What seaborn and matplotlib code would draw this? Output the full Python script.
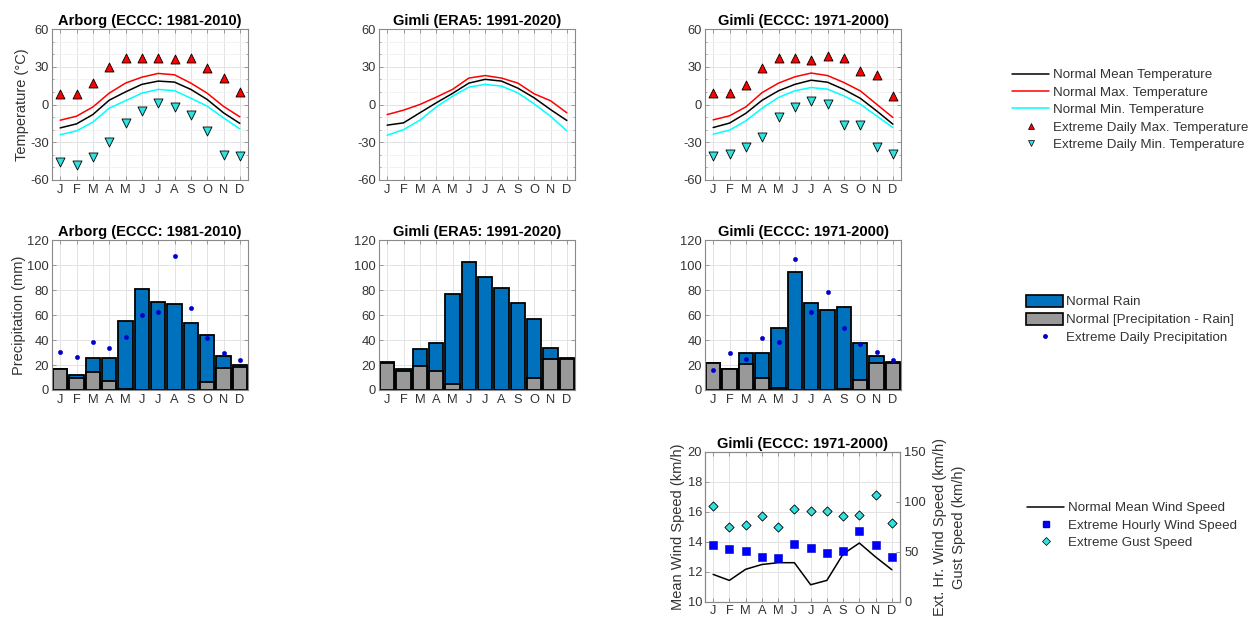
import matplotlib
matplotlib.use("Agg")
import matplotlib.pyplot as plt
from matplotlib.lines import Line2D
from matplotlib.patches import Patch
from matplotlib.ticker import MultipleLocator
import seaborn as sns

# ---------------------------------------------------------------- data
months = ["J", "F", "M", "A", "M", "J", "J", "A", "S", "O", "N", "D"]
month_pos = list(range(1, 13))

# Arborg (ECCC 1981-2010) temperature, degC
arb_t_mean = [-18.6, -15.4, -8.0, 3.4, 10.0, 16.0, 18.6, 17.8, 12.0, 4.0, -6.6, -15.0]
arb_t_max = [-12.5, -9.3, -2.0, 9.0, 17.0, 21.7, 24.7, 23.6, 17.0, 9.0, -1.5, -9.8]
arb_t_min = [-24.0, -21.0, -14.0, -3.0, 3.0, 9.0, 12.0, 11.0, 5.0, -1.3, -10.6, -19.4]
arb_ext_max = [8.0, 8.0, 17.0, 30.0, 37.0, 37.0, 36.6, 36.0, 37.0, 29.0, 21.0, 10.0]
arb_ext_min = [-46.0, -48.0, -42.0, -30.0, -15.0, -5.0, 1.0, -2.0, -8.0, -21.0, -40.0, -41.0]

# Gimli (ERA5 1991-2020) temperature, degC
era_t_mean = [-16.4, -14.6, -6.6, 1.3, 8.8, 17.0, 20.0, 18.6, 13.0, 5.3, -4.0, -12.7]
era_t_max = [-8.0, -4.5, 0.0, 5.8, 12.0, 21.0, 23.0, 21.0, 17.0, 8.5, 3.0, -6.6]
era_t_min = [-24.4, -20.0, -12.5, -2.0, 6.6, 13.8, 16.0, 14.6, 9.3, 0.5, -9.3, -21.0]

# Gimli (ECCC 1971-2000) temperature, degC
gim_t_mean = [-18.3, -14.8, -7.0, 3.4, 10.9, 16.0, 19.3, 17.7, 12.0, 5.0, -5.0, -15.6]
gim_t_max = [-12.2, -9.0, -1.9, 9.5, 17.0, 22.0, 25.0, 23.0, 17.5, 10.9, 0.3, -10.3]
gim_t_min = [-23.6, -20.4, -13.0, -2.9, 5.6, 10.9, 13.5, 12.2, 6.9, 0.3, -9.0, -18.3]
gim_ext_max = [9.0, 9.0, 15.6, 29.4, 36.8, 37.3, 35.5, 38.7, 36.8, 26.8, 23.8, 6.9]
gim_ext_min = [-41.3, -39.5, -34.0, -25.7, -9.8, -1.6, 2.9, 0.3, -16.0, -16.4, -34.0, -39.5]

# Precipitation, mm: rain and (precipitation - rain)
arb_rain = [0.3, 2.0, 10.6, 18.5, 54.5, 81.0, 70.4, 68.8, 53.0, 37.3, 9.2, 1.3]
arb_other = [16.8, 10.0, 14.7, 7.5, 1.0, 0.0, 0.0, 0.0, 0.3, 6.7, 18.0, 18.7]
arb_ext_precip = [30.4, 26.7, 38.7, 34.0, 42.7, 60.0, 62.7, 107.0, 66.0, 42.0, 30.0, 24.0]

era_rain = [0.8, 1.7, 13.1, 22.5, 72.0, 102.8, 90.5, 81.7, 70.0, 47.6, 9.0, 1.0]
era_other = [22.0, 15.3, 19.5, 15.0, 5.0, 0.0, 0.0, 0.0, 0.0, 9.4, 25.0, 25.0]

gim_rain = [0.6, 0.3, 9.2, 20.0, 48.0, 94.7, 70.0, 64.3, 65.9, 30.0, 5.5, 1.1]
gim_other = [21.3, 16.7, 20.8, 10.0, 2.0, 0.0, 0.0, 0.0, 0.8, 8.0, 22.0, 21.3]
gim_ext_precip = [16.0, 30.0, 24.5, 42.0, 38.7, 105.0, 62.7, 78.7, 49.3, 36.5, 30.4, 24.0]

# Gimli (ECCC 1971-2000) wind, km/h
gim_wind_mean = [11.84, 11.44, 12.18, 12.5, 12.62, 12.62, 11.15, 11.44, 13.2, 13.93, 13.0, 12.15]
gim_wind_hourly = [56.7, 52.7, 50.7, 45.0, 44.0, 58.3, 54.3, 49.0, 50.7, 70.7, 56.7, 45.0]
gim_wind_gust = [96.0, 75.0, 76.7, 86.0, 75.0, 93.3, 91.0, 91.0, 86.0, 87.3, 106.7, 79.0]

# ---------------------------------------------------------------- style
sns.set_style("ticks")
plt.rcParams["font.family"] = ["Liberation Sans", "DejaVu Sans"]
plt.rcParams["axes.unicode_minus"] = False

TICK_FS = 9.3
LABEL_FS = 10.5
TITLE_FS = 10.5
LEG_FS = 9.6
AX_COLOR = "#8a8a8a"
TXT_COLOR = "#333333"
GRID_MAJ = "#e3e3e3"
GRID_MIN = "#f0f0f0"
BLUE_BAR = "#0072BD"
GRAY_BAR = "#999999"

fig = plt.figure(figsize=(12.51, 6.17), dpi=100)
W, H = 1251.0, 617.0


def add_axes(left, top, right, bottom):
    return fig.add_axes([left / W, 1 - bottom / H, (right - left) / W, (bottom - top) / H])


def style_axes(ax, title):
    ax.set_xlim(0.5, 12.5)
    ax.set_xticks(month_pos)
    ax.set_xticklabels(months)
    ax.set_axisbelow(True)
    ax.grid(True, which="major", color=GRID_MAJ, lw=0.7)
    for sp in ax.spines.values():
        sp.set_color(AX_COLOR)
        sp.set_linewidth(0.8)
        sp.set_visible(True)
    ax.tick_params(which="both", direction="in", top=True, right=True,
                   colors=AX_COLOR, labelcolor=TXT_COLOR, labelsize=TICK_FS)
    ax.tick_params(which="major", length=3, width=0.6)
    ax.tick_params(which="minor", length=1.5, width=0.5)
    ax.tick_params(axis="x", pad=3)
    ax.tick_params(axis="y", pad=2)
    ax.set_title(title, fontsize=TITLE_FS, fontweight="bold", color="black", pad=3)
    ax.set_xlabel("")
    ax.set_ylabel("")
    if ax.get_legend() is not None:
        ax.get_legend().remove()


def temp_panel(ax, title, t_mean, t_max, t_min, ext_max=None, ext_min=None, ylabel=None):
    sns.lineplot(x=month_pos, y=t_mean, color="black", lw=1.1, ax=ax)
    sns.lineplot(x=month_pos, y=t_max, color="red", lw=1.1, ax=ax)
    sns.lineplot(x=month_pos, y=t_min, color="cyan", lw=1.1, ax=ax)
    if ext_max is not None:
        sns.scatterplot(x=month_pos, y=ext_max, marker="^", color="red", edgecolor="black",
                        linewidth=0.6, s=42, ax=ax, zorder=4)
        sns.scatterplot(x=month_pos, y=ext_min, marker="v", color="#33e0e0", edgecolor="black",
                        linewidth=0.6, s=42, ax=ax, zorder=4)
    ax.set_ylim(-60, 60)
    ax.set_yticks([-60, -30, 0, 30, 60])
    ax.yaxis.set_minor_locator(MultipleLocator(10))
    style_axes(ax, title)
    ax.grid(True, which="minor", axis="y", color=GRID_MIN, lw=0.6)
    if ylabel:
        ax.set_ylabel(ylabel, fontsize=LABEL_FS, color=TXT_COLOR, labelpad=1)


def precip_panel(ax, title, rain, other, ext=None, ylabel=None):
    total = [r + o for r, o in zip(rain, other)]
    sns.barplot(x=month_pos, y=total, native_scale=True, color=BLUE_BAR, saturation=1,
                edgecolor="black", linewidth=1.3, width=0.86, errorbar=None, ax=ax)
    sns.barplot(x=month_pos, y=other, native_scale=True, color=GRAY_BAR, saturation=1,
                edgecolor="black", linewidth=1.3, width=0.86, errorbar=None, ax=ax)
    if ext is not None:
        sns.scatterplot(x=month_pos, y=ext, marker="o", color="#0000CC", edgecolor="#0000CC",
                        linewidth=0.3, s=10, ax=ax, zorder=5)
    ax.set_ylim(0, 120)
    ax.set_yticks(range(0, 121, 20))
    style_axes(ax, title)
    if ylabel:
        ax.set_ylabel(ylabel, fontsize=LABEL_FS, color=TXT_COLOR, labelpad=1)


# ---------------------------------------------------------------- temperature row
ax1 = add_axes(52, 29, 248, 180)
temp_panel(ax1, "Arborg (ECCC: 1981-2010)", arb_t_mean, arb_t_max, arb_t_min,
           arb_ext_max, arb_ext_min, ylabel="Temperature (°C)")
ax2 = add_axes(379, 29, 575, 180)
temp_panel(ax2, "Gimli (ERA5: 1991-2020)", era_t_mean, era_t_max, era_t_min)
ax3 = add_axes(705, 29, 901, 180)
temp_panel(ax3, "Gimli (ECCC: 1971-2000)", gim_t_mean, gim_t_max, gim_t_min,
           gim_ext_max, gim_ext_min)

# ---------------------------------------------------------------- precipitation row
ax4 = add_axes(52, 240, 248, 390)
precip_panel(ax4, "Arborg (ECCC: 1981-2010)", arb_rain, arb_other, arb_ext_precip,
             ylabel="Precipitation (mm)")
ax5 = add_axes(379, 240, 575, 390)
precip_panel(ax5, "Gimli (ERA5: 1991-2020)", era_rain, era_other)
ax6 = add_axes(705, 240, 901, 390)
precip_panel(ax6, "Gimli (ECCC: 1971-2000)", gim_rain, gim_other, gim_ext_precip)

# ---------------------------------------------------------------- wind panel
ax7 = add_axes(705, 452, 900, 602)
sns.lineplot(x=month_pos, y=gim_wind_mean, color="black", lw=1.1, ax=ax7)
ax7.set_ylim(10, 20)
ax7.set_yticks(range(10, 21, 2))
style_axes(ax7, "Gimli (ECCC: 1971-2000)")
ax7.tick_params(right=False)
ax7.tick_params(axis="x", pad=2)
ax7.set_ylabel("Mean Wind Speed (km/h)", fontsize=LABEL_FS, color=TXT_COLOR, labelpad=2)

ax8 = ax7.twinx()
sns.scatterplot(x=month_pos, y=gim_wind_hourly, marker="s", color="#0000FF", edgecolor="#0000CC",
                linewidth=0.4, s=26, ax=ax8, zorder=4)
sns.scatterplot(x=month_pos, y=gim_wind_gust, marker="D", color="#33e0e0", edgecolor="black",
                linewidth=0.6, s=22, ax=ax8, zorder=4)
ax8.set_ylim(0, 150)
ax8.set_yticks([0, 50, 100, 150])
ax8.set_xlim(0.5, 12.5)
for sp in ax8.spines.values():
    sp.set_color(AX_COLOR)
    sp.set_linewidth(0.8)
ax8.tick_params(axis="y", direction="in", colors=AX_COLOR, labelcolor=TXT_COLOR,
                labelsize=TICK_FS, length=3, width=0.6, pad=3)
ax8.set_ylabel("Ext. Hr. Wind Speed (km/h)\nGust Speed (km/h)", fontsize=LABEL_FS,
               color=TXT_COLOR, labelpad=5, linespacing=1.45)

# ---------------------------------------------------------------- legends
temp_handles = [
    Line2D([], [], color="black", lw=1.1),
    Line2D([], [], color="red", lw=1.1),
    Line2D([], [], color="cyan", lw=1.1),
    Line2D([], [], ls="none", marker="^", markerfacecolor="red", markeredgecolor="black",
           markeredgewidth=0.5, markersize=5),
    Line2D([], [], ls="none", marker="v", markerfacecolor="#33e0e0", markeredgecolor="black",
           markeredgewidth=0.5, markersize=5),
]
temp_labels = ["Normal Mean Temperature", "Normal Max. Temperature", "Normal Min. Temperature",
               "Extreme Daily Max. Temperature", "Extreme Daily Min. Temperature"]
fig.legend(temp_handles, temp_labels, loc="upper left", bbox_to_anchor=(1012 / W, 1 - 69 / H),
           frameon=False, fontsize=LEG_FS, borderpad=0, borderaxespad=0, handlelength=2.8,
           handletextpad=0.3, labelspacing=0.38, labelcolor=TXT_COLOR)

precip_handles = [
    Patch(facecolor=BLUE_BAR, edgecolor="black", lw=1.2),
    Patch(facecolor=GRAY_BAR, edgecolor="black", lw=1.2),
    Line2D([], [], ls="none", marker="o", markerfacecolor="#0000CC", markeredgecolor="#0000CC",
           markersize=2.5),
]
precip_labels = ["Normal Rain", "Normal [Precipitation - Rain]", "Extreme Daily Precipitation"]
fig.legend(precip_handles, precip_labels, loc="upper left", bbox_to_anchor=(1026 / W, 1 - 295 / H),
           frameon=False, fontsize=LEG_FS, borderpad=0, borderaxespad=0, handlelength=2.8,
           handleheight=0.95, handletextpad=0.2, labelspacing=0.35, labelcolor=TXT_COLOR)

wind_handles = [
    Line2D([], [], color="black", lw=1.1),
    Line2D([], [], ls="none", marker="s", markerfacecolor="#0000FF", markeredgecolor="#0000CC",
           markersize=4.5),
    Line2D([], [], ls="none", marker="D", markerfacecolor="#33e0e0", markeredgecolor="black",
           markeredgewidth=0.5, markersize=4),
]
wind_labels = ["Normal Mean Wind Speed", "Extreme Hourly Wind Speed", "Extreme Gust Speed"]
fig.legend(wind_handles, wind_labels, loc="upper left", bbox_to_anchor=(1027 / W, 1 - 502 / H),
           frameon=False, fontsize=LEG_FS, borderpad=0, borderaxespad=0, handlelength=2.8,
           handletextpad=0.3, labelspacing=0.38, labelcolor=TXT_COLOR)

fig.savefig("out.png", dpi=100, facecolor="white")
